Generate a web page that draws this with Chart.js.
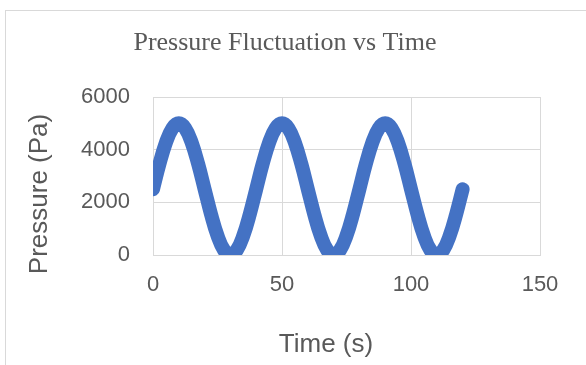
<!DOCTYPE html>
<html>
<head>
<meta charset="utf-8">
<script src="https://cdn.jsdelivr.net/npm/chart.js@4"></script>
<style>
  html, body { margin: 0; padding: 0; background: #fff; overflow: hidden; }
  #frame { position: absolute; left: 5px; top: 10px; width: 700px; height: 500px;
           border-left: 1px solid #d9d9d9; border-top: 1px solid #d9d9d9; }
  #c { position: absolute; left: 0; top: 0; }
</style>
</head>
<body>
<div id="frame"></div>
<canvas id="c" width="586" height="365"></canvas>
<script>
const chartTitle = "Pressure Fluctuation vs Time";
const xTitle = "Time (s)";
const yTitle = "Pressure (Pa)";
const xTicks = [0, 50, 100, 150];
const yTicks = [0, 2000, 4000, 6000];
const timeS = [0, 2.5, 5, 7.5, 10, 12.5, 15, 17.5, 20, 22.5, 25, 27.5, 30, 32.5, 35, 37.5,
               40, 42.5, 45, 47.5, 50, 52.5, 55, 57.5, 60, 62.5, 65, 67.5, 70, 72.5, 75, 77.5,
               80, 82.5, 85, 87.5, 90, 92.5, 95, 97.5, 100, 102.5, 105, 107.5, 110, 112.5, 115, 117.5, 120];
const pressurePa = [2500, 3457, 4268, 4810, 5000, 4810, 4268, 3457, 2500, 1543, 732, 190, 0, 190, 732, 1543,
                    2500, 3457, 4268, 4810, 5000, 4810, 4268, 3457, 2500, 1543, 732, 190, 0, 190, 732, 1543,
                    2500, 3457, 4268, 4810, 5000, 4810, 4268, 3457, 2500, 1543, 732, 190, 0, 190, 732, 1543, 2500];

const points = timeS.map((t, i) => ({ x: t, y: pressurePa[i] }));

const axisTitles = {
  id: 'axisTitles',
  afterDraw(chart) {
    const ctx = chart.ctx;
    ctx.save();
    ctx.fillStyle = '#595959';
    ctx.font = '26px "Liberation Sans", Arial, sans-serif';
    ctx.textAlign = 'center';
    ctx.textBaseline = 'middle';
    ctx.fillText(xTitle, 326, 345);
    ctx.translate(40, 194);
    ctx.rotate(-Math.PI / 2);
    ctx.fillText(yTitle, 0, 0);
    ctx.restore();
  }
};

new Chart(document.getElementById('c'), {
  type: 'scatter',
  data: {
    datasets: [{
      data: points,
      showLine: true,
      borderColor: '#4472c4',
      backgroundColor: '#4472c4',
      borderWidth: 14,
      borderCapStyle: 'round',
      borderJoinStyle: 'round',
      tension: 0.4,
      pointRadius: 0,
      pointHoverRadius: 0
    }]
  },
  options: {
    responsive: false,
    animation: false,
    layout: { padding: { top: 0, right: 46, bottom: 0, left: 30 } },
    plugins: {
      legend: { display: false },
      tooltip: { enabled: false },
      title: {
        display: true,
        text: chartTitle,
        color: '#595959',
        font: { family: '"Liberation Serif", "Times New Roman", serif', size: 26, weight: 'normal' },
        padding: { top: 27.4, bottom: 38.4 }
      }
    },
    scales: {
      x: {
        type: 'linear',
        min: xTicks[0],
        max: xTicks[xTicks.length - 1],
        afterBuildTicks: s => { s.ticks = xTicks.map(v => ({ value: v })); },
        afterFit: s => { s.height = 110; },
        grid: { color: '#d9d9d9', drawTicks: false },
        border: { color: '#d9d9d9' },
        ticks: { color: '#595959', padding: 17, callback: v => String(v),
                 font: { family: '"Liberation Sans", Arial, sans-serif', size: 22 } }
      },
      y: {
        type: 'linear',
        min: yTicks[0],
        max: yTicks[yTicks.length - 1],
        afterBuildTicks: s => { s.ticks = yTicks.map(v => ({ value: v })); },
        afterFit: s => { s.width = 123; },
        grid: { color: '#d9d9d9', drawTicks: false },
        border: { color: '#d9d9d9' },
        ticks: { color: '#595959', padding: 23, callback: v => String(v),
                 font: { family: '"Liberation Sans", Arial, sans-serif', size: 22 } }
      }
    }
  },
  plugins: [axisTitles]
});
</script>
</body>
</html>
